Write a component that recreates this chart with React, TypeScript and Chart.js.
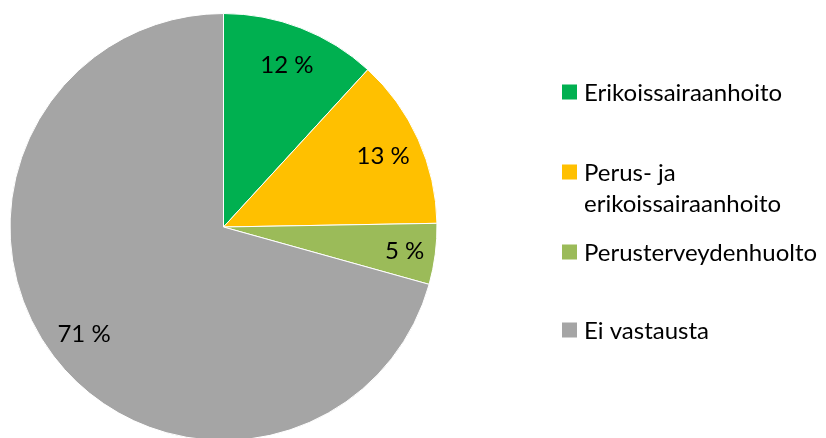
import React, { useEffect, useRef } from "react";
import { Chart, registerables } from "chart.js";

Chart.register(...registerables);

const categories: string[][] = [
  ["Erikoissairaanhoito"],
  ["Perus- ja", "erikoissairaanhoito"],
  ["Perusterveydenhuolto"],
  ["Ei vastausta"],
];
const values: number[] = [11.8, 12.9, 4.6, 70.6];
const valueLabels: string[] = ["12 %", "13 %", "5 %", "71 %"];
const colors: string[] = ["#00B050", "#FFC000", "#9BBB59", "#A5A5A5"];

const FONT = "24px Lato, 'Open Sans', sans-serif";

const labelPlugin = {
  id: "sliceLabels",
  afterDatasetsDraw(chart: any) {
    const ctx = chart.ctx as CanvasRenderingContext2D;
    const meta = chart.getDatasetMeta(0);
    ctx.save();
    ctx.font = FONT;
    ctx.fillStyle = "#000000";
    ctx.textAlign = "center";
    ctx.textBaseline = "middle";
    meta.data.forEach((arc: any, i: number) => {
      const mid = (arc.startAngle + arc.endAngle) / 2;
      const span = arc.endAngle - arc.startAngle;
      const r = arc.outerRadius * (span < 0.4 ? 0.855 : 0.82);
      const x = arc.x + Math.cos(mid) * r;
      const y = arc.y + Math.sin(mid) * r;
      ctx.fillText(valueLabels[i], x, y + 1);
    });
    ctx.restore();
  },
};

const legendPlugin = {
  id: "sideLegend",
  afterDraw(chart: any) {
    const ctx = chart.ctx as CanvasRenderingContext2D;
    const centers = [92, 172, 252, 330];
    const boxX = 562;
    const box = 15;
    const textX = 584;
    const lineH = 31;
    ctx.save();
    ctx.font = FONT;
    ctx.textAlign = "left";
    ctx.textBaseline = "middle";
    categories.forEach((lines, i) => {
      const cy = centers[i];
      ctx.fillStyle = colors[i];
      ctx.fillRect(boxX, cy - box / 2, box, box);
      ctx.fillStyle = "#000000";
      lines.forEach((t, j) => {
        ctx.fillText(t, textX, cy + 1 + j * lineH);
      });
    });
    ctx.restore();
  },
};

export default function App() {
  const ref = useRef<HTMLCanvasElement | null>(null);
  useEffect(() => {
    document.body.style.margin = "0";
    const canvas = ref.current;
    if (!canvas) return;
    const chart = new Chart(canvas, {
      type: "pie",
      data: {
        labels: categories.map((c) => c.join(" ")),
        datasets: [
          {
            data: values,
            backgroundColor: colors,
            borderColor: "#ffffff",
            borderWidth: 1,
          },
        ],
      },
      options: {
        responsive: false,
        animation: false,
        layout: { padding: { left: 9, top: 13, right: 388, bottom: 9 } },
        plugins: {
          legend: { display: false },
          tooltip: { enabled: false },
        },
      },
      plugins: [labelPlugin, legendPlugin],
    });
    return () => chart.destroy();
  }, []);
  return (
    <div
      style={{
        position: "fixed",
        left: 0,
        top: 0,
        width: 826,
        height: 438,
        overflow: "hidden",
        background: "#ffffff",
      }}
    >
      <canvas ref={ref} width={826} height={450} style={{ display: "block" }} />
    </div>
  );
}
